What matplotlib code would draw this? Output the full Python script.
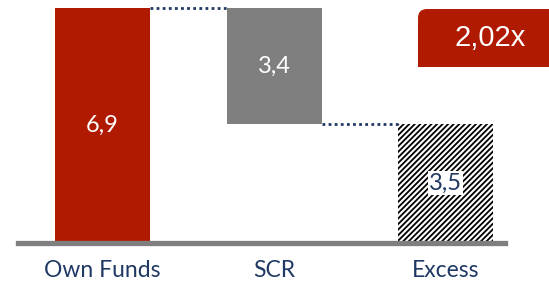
import matplotlib
matplotlib.use("Agg")
import matplotlib.pyplot as plt
from matplotlib.patches import FancyBboxPatch, Rectangle
import matplotlib as mpl

categories = ["Own Funds", "SCR", "Excess"]
values = [6.9, 3.4, 3.5]
labels = ["6,9", "3,4", "3,5"]
ratio_label = "2,02x"

RED = "#B01A00"
GRAY = "#7F7F7F"
NAVY = "#1F3864"

mpl.rcParams['hatch.linewidth'] = 1.3

W, H = 549, 285
fig = plt.figure(figsize=(W/100, H/100), dpi=100)
ax = fig.add_axes([18/W, 42/H, (505-18)/W, 243/H])

own = values[0]
scr = values[1]
exc = values[2]
x = [0, 1, 2]
width = 0.554

ax.bar(x[0], own, width, bottom=0, color=RED, zorder=2)
ax.bar(x[1], scr, width, bottom=own - scr, color=GRAY, zorder=2)
ax.bar(x[2], exc, width, bottom=0, color="white", edgecolor="black",
       hatch="//////", linewidth=0, zorder=2)

# connectors
ax.plot([x[0] + width/2, x[1] - width/2], [own, own], color=NAVY, lw=2,
        linestyle=(0, (1, 1.2)), zorder=3)
ax.plot([x[1] + width/2, x[2] - width/2], [own - scr, own - scr], color=NAVY, lw=2,
        linestyle=(0, (1, 1.2)), zorder=3)

fnt = "Lato"
ax.text(x[0], own/2, labels[0], color="white", ha="center", va="center",
        fontsize=17, family=fnt, zorder=4)
ax.text(x[1], own - scr/2, labels[1], color="white", ha="center", va="center",
        fontsize=17, family=fnt, zorder=4)
ax.text(x[2], exc/2, labels[2], color=NAVY, ha="center", va="center",
        fontsize=17, family=fnt, zorder=4,
        bbox=dict(facecolor="white", edgecolor="none", pad=1))

ax.set_xlim(-0.493, 2.347)
ax.set_ylim(0, 6.9 * 243 / 235)
ax.set_xticks(x)
ax.set_xticklabels(categories, family=fnt, fontsize=16.5, color=NAVY)
ax.tick_params(axis="x", length=0, pad=12)
ax.set_yticks([])
for s in ["top", "right", "left"]:
    ax.spines[s].set_visible(False)
ax.spines["bottom"].set_color(GRAY)
ax.spines["bottom"].set_linewidth(3.8)
ax.spines["bottom"].set_zorder(5)

# ratio box (pixel coordinates, rounded top-left corner)
box = FancyBboxPatch((418, H - 67), 200, 58,
                     boxstyle="round,pad=0,rounding_size=9",
                     transform=None, facecolor=RED, edgecolor="none")
fig.patches.append(box)
fig.patches.append(Rectangle((418, H - 67), 40, 20, transform=None,
                             facecolor=RED, edgecolor="none"))
fig.text(490/W, (H-38)/H, ratio_label, color="white", ha="center", va="center",
         fontsize=21, family="Liberation Sans")

fig.savefig("out.png", dpi=100)
